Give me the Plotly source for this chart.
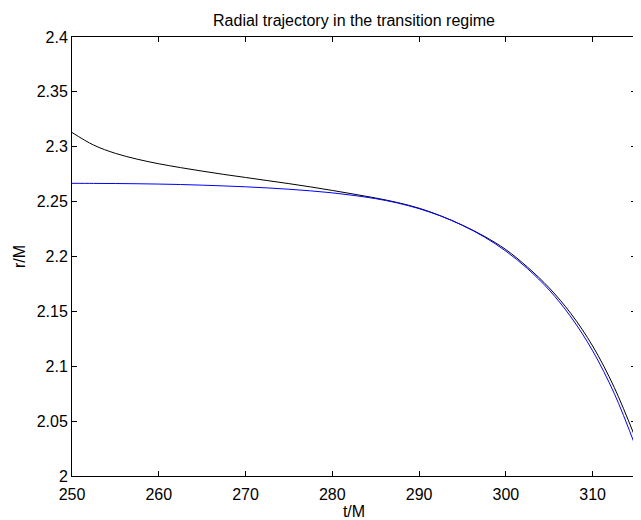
import plotly.graph_objects as go

t_vals = [250, 252.5, 255, 257.5, 260, 262.5, 265, 267.5, 270, 272.5, 275, 277.5, 280, 282.5, 285,
          287.5, 290, 292.5, 295, 297.5, 300, 302.5, 305, 307.5, 310, 312.5, 315]

r_black = [2.3130, 2.3015, 2.2940, 2.2887, 2.2845, 2.2810, 2.2778, 2.2748, 2.2720, 2.2692, 2.2664,
           2.2634, 2.2602, 2.2568, 2.2533, 2.2492, 2.2440, 2.2370, 2.2285, 2.2185, 2.2063, 2.1903,
           2.1714, 2.1480, 2.1185, 2.0806, 2.0333]

r_blue = [2.2667, 2.2666, 2.2665, 2.2663, 2.2660, 2.2656, 2.2650, 2.2643, 2.2635, 2.2625, 2.2613,
          2.2598, 2.2580, 2.2556, 2.2527, 2.2488, 2.2436, 2.2369, 2.2284, 2.2179, 2.2049, 2.1889,
          2.1694, 2.1449, 2.1141, 2.0751, 2.0258]

x_ticks = [250, 260, 270, 280, 290, 300, 310]
y_ticks = [2, 2.05, 2.1, 2.15, 2.2, 2.25, 2.3, 2.35, 2.4]
y_tick_labels = ["2", "2.05", "2.1", "2.15", "2.2", "2.25", "2.3", "2.35", "2.4"]

fig = go.Figure()
fig.add_trace(go.Scatter(x=t_vals, y=r_black, mode="lines",
                         line=dict(color="black", width=1, shape="spline"), showlegend=False))
fig.add_trace(go.Scatter(x=t_vals, y=r_blue, mode="lines",
                         line=dict(color="blue", width=1, shape="spline"), showlegend=False))

font = dict(family="Liberation Sans, Arial, sans-serif", size=16, color="black")
fig.update_layout(
    width=633, height=512,
    margin=dict(l=64, r=4, t=29, b=38),
    paper_bgcolor="white", plot_bgcolor="white",
    font=font,
    title=dict(text="Radial trajectory in the transition regime", xref="paper", x=0.5,
               xanchor="center", yref="container", y=0.976, yanchor="middle",
               font=dict(size=16)),
)
fig.update_xaxes(range=[250, 315], tickvals=x_ticks, ticks="inside", ticklen=5, tickcolor="black",
                 showline=True, linecolor="black", linewidth=1, mirror="ticks", showgrid=False,
                 zeroline=False, ticklabelstandoff=4, tickfont=dict(size=16),
                 title=dict(text="t/M", standoff=2, font=dict(size=16)))
fig.update_yaxes(range=[2, 2.4], tickvals=y_ticks, ticktext=y_tick_labels, ticks="inside", ticklen=5,
                 tickcolor="black", showline=True, linecolor="black", linewidth=1, mirror="ticks",
                 showgrid=False, zeroline=False, tickfont=dict(size=16),
                 title=dict(text="r/M", standoff=7, font=dict(size=16)))

fig.write_html("out.html")
